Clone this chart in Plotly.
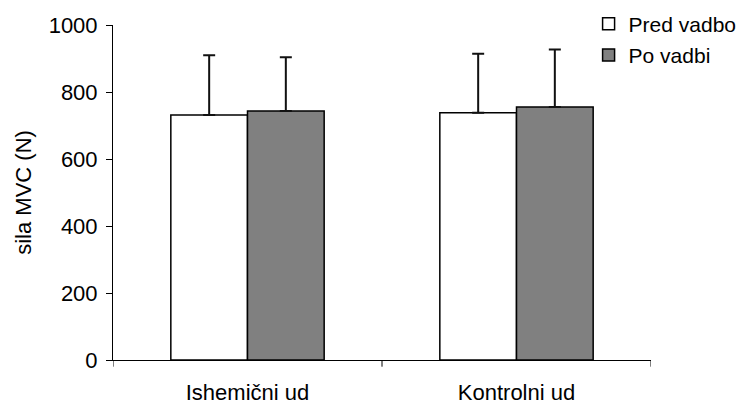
import plotly.graph_objects as go

categories = ["Ishemični ud", "Kontrolni ud"]
pred = [731, 738]
pred_err = [179, 176]
po = [743, 755]
po_err = [161, 172]
yticks = [0, 200, 400, 600, 800, 1000]

font = "Liberation Sans, Arial, sans-serif"

fig = go.Figure()
fig.add_trace(go.Bar(
    x=categories, y=pred, name="Pred vadbo", legendgroup="a",
    marker=dict(color="white", line=dict(color="black", width=1.5)),
    error_y=dict(type="data", symmetric=False, array=pred_err, arrayminus=[0, 0],
                 color="#111111", thickness=2, width=6),
))
fig.add_trace(go.Bar(
    x=categories, y=po, name="Po vadbi", legendgroup="b",
    marker=dict(color="#808080", line=dict(color="black", width=1.5)),
    error_y=dict(type="data", symmetric=False, array=po_err, arrayminus=[0, 0],
                 color="#111111", thickness=2, width=6),
))

fig.update_layout(
    width=737, height=396,
    margin=dict(l=105, r=94, t=17, b=44, autoexpand=False),
    paper_bgcolor="white", plot_bgcolor="white",
    barmode="group", bargap=0.43, bargroupgap=0,
    font=dict(family=font, size=22, color="black"),
    showlegend=True,
    legend=dict(x=0.884, y=1.064, xanchor="left", yanchor="top",
                font=dict(size=21), bgcolor="rgba(0,0,0,0)",
                traceorder="grouped", tracegroupgap=1),
    xaxis=dict(showline=True, linecolor="black", linewidth=1,
               ticks="outside", ticklen=13, tickcolor="rgba(0,0,0,0)",
               showgrid=False, tickfont=dict(size=22),
               range=[-0.5, 1.5]),
    yaxis=dict(range=[0, 1000], tickvals=yticks, showline=True, linecolor="black",
               linewidth=1, ticks="outside", ticklen=6, tickcolor="black",
               ticklabelstandoff=4,
               showgrid=False, zeroline=False, tickfont=dict(size=22),
               title=dict(text="sila MVC (N)", font=dict(size=22), standoff=10)),
)
# category boundary ticks on x axis
for xv in [-0.5, 0.5, 1.5]:
    fig.add_shape(type="line", xref="x", yref="paper", x0=xv, x1=xv, y0=0, y1=-0.02,
                  line=dict(color="black", width=1))

fig.write_html("out.html")
